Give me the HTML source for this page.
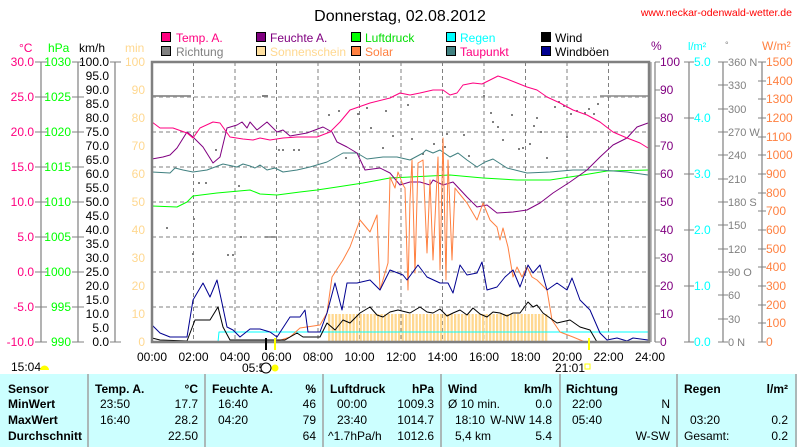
<!DOCTYPE html>
<html><head><meta charset="utf-8"><style>
body{margin:0;background:#fff;width:800px;height:447px;overflow:hidden}
svg{display:block;font-family:"Liberation Sans",sans-serif}
</style></head><body>
<svg width="800" height="447" viewBox="0 0 800 447" xmlns="http://www.w3.org/2000/svg">
<defs>
<pattern id="sun" x="328" y="0" width="3.5" height="10" patternUnits="userSpaceOnUse"><rect x="0" y="0" width="2.3" height="10" fill="#ffd890"/></pattern>
</defs>
<text x="400" y="21" font-size="16" text-anchor="middle" fill="#000">Donnerstag, 02.08.2012</text>
<text x="792" y="16" font-size="10.5" text-anchor="end" fill="#ff0000">www.neckar-odenwald-wetter.de</text>
<g font-size="12">
<rect x="161.5" y="32.5" width="9" height="9" fill="#ff0080" stroke="#000"/><text x="176" y="42" fill="#ff0080">Temp. A.</text>
<rect x="161.5" y="46.5" width="9" height="9" fill="#808080" stroke="#000"/><text x="176" y="56" fill="#808080">Richtung</text>
<rect x="256.5" y="32.5" width="9" height="9" fill="#800080" stroke="#000"/><text x="270" y="42" fill="#800080">Feuchte A.</text>
<rect x="256.5" y="46.5" width="9" height="9" fill="#ffe0a0" stroke="#000"/><text x="270" y="56" fill="#ffd890">Sonnenschein</text>
<rect x="351.5" y="32.5" width="9" height="9" fill="#00ff00" stroke="#000"/><text x="365" y="42" fill="#00dd00">Luftdruck</text>
<rect x="351.5" y="46.5" width="9" height="9" fill="#ff8040" stroke="#000"/><text x="365" y="56" fill="#ff8040">Solar</text>
<rect x="446.5" y="32.5" width="9" height="9" fill="#00ffff" stroke="#000"/><text x="460" y="42" fill="#00ffff">Regen</text>
<rect x="446.5" y="46.5" width="9" height="9" fill="#408080" stroke="#000"/><text x="460" y="56" fill="#ff0080">Taupunkt</text>
<rect x="541.5" y="32.5" width="9" height="9" fill="#000" stroke="#000"/><text x="555" y="42" fill="#000">Wind</text>
<rect x="541.5" y="46.5" width="9" height="9" fill="#000090" stroke="#000"/><text x="555" y="56" fill="#000">Windböen</text>
</g>
<g font-size="12">
<text x="19" y="52" fill="#ff0080">°C</text>
<text x="48" y="52" fill="#00ff00">hPa</text>
<text x="79" y="52" fill="#000">km/h</text>
<text x="125" y="52" fill="#ffd890">min</text>
<text x="651" y="50" fill="#800080">%</text>
<text x="688" y="50" fill="#00ffff" font-size="11">l/m²</text>
<text x="725" y="48" fill="#808080" font-size="9">°</text>
<text x="762" y="50" fill="#ff8040">W/m²</text>
</g>
<g stroke="#808080" stroke-width="1.2">
<line x1="41" y1="62" x2="41" y2="342"/><line x1="78" y1="62" x2="78" y2="342"/><line x1="115" y1="62" x2="115" y2="342"/>
<line x1="655" y1="62" x2="655" y2="342"/><line x1="689" y1="62" x2="689" y2="342"/><line x1="723" y1="62" x2="723" y2="342"/><line x1="762" y1="62" x2="762" y2="342"/>
</g>
<g font-size="12" text-anchor="end">
<g fill="#ff0080">
<text x="34" y="66">30.0</text><text x="34" y="101">25.0</text><text x="34" y="136">20.0</text><text x="34" y="171">15.0</text><text x="34" y="206">10.0</text><text x="34" y="241">5.0</text><text x="34" y="276">0.0</text><text x="34" y="311">-5.0</text><text x="34" y="346">-10.0</text></g>
<g fill="#00ff00">
<text x="71" y="66">1030</text><text x="71" y="101">1025</text><text x="71" y="136">1020</text><text x="71" y="171">1015</text><text x="71" y="206">1010</text><text x="71" y="241">1005</text><text x="71" y="276">1000</text><text x="71" y="311">995</text><text x="71" y="346">990</text></g>
<g fill="#000">
<text x="109" y="66">100.0</text><text x="109" y="80">95.0</text><text x="109" y="94">90.0</text><text x="109" y="108">85.0</text><text x="109" y="122">80.0</text><text x="109" y="136">75.0</text><text x="109" y="150">70.0</text><text x="109" y="164">65.0</text><text x="109" y="178">60.0</text><text x="109" y="192">55.0</text><text x="109" y="206">50.0</text><text x="109" y="220">45.0</text><text x="109" y="234">40.0</text><text x="109" y="248">35.0</text><text x="109" y="262">30.0</text><text x="109" y="276">25.0</text><text x="109" y="290">20.0</text><text x="109" y="304">15.0</text><text x="109" y="318">10.0</text><text x="109" y="332">5.0</text><text x="109" y="346">0.0</text></g>
<g fill="#ffd890">
<text x="145" y="66">100</text><text x="145" y="94">90</text><text x="145" y="122">80</text><text x="145" y="150">70</text><text x="145" y="178">60</text><text x="145" y="206">50</text><text x="145" y="234">40</text><text x="145" y="262">30</text><text x="145" y="290">20</text><text x="145" y="318">10</text><text x="145" y="346">0</text></g>
</g>
<g font-size="12">
<g fill="#800080">
<text x="660" y="66">100</text><text x="660" y="94">90</text><text x="660" y="122">80</text><text x="660" y="150">70</text><text x="660" y="178">60</text><text x="660" y="206">50</text><text x="660" y="234">40</text><text x="660" y="262">30</text><text x="660" y="290">20</text><text x="660" y="318">10</text><text x="660" y="346">0</text></g>
<g fill="#00ffff">
<text x="694" y="66">5.0</text><text x="694" y="122">4.0</text><text x="694" y="178">3.0</text><text x="694" y="234">2.0</text><text x="694" y="290">1.0</text><text x="694" y="346">0.0</text></g>
<g fill="#808080" font-size="11">
<text x="728" y="66">360 N</text><text x="728" y="89">330</text><text x="728" y="113">300</text><text x="728" y="136">270 W</text><text x="728" y="159">240</text><text x="728" y="183">210</text><text x="728" y="206">180 S</text><text x="728" y="229">150</text><text x="728" y="253">120</text><text x="728" y="276">90 O</text><text x="728" y="299">60</text><text x="728" y="323">30</text><text x="728" y="346">0 N</text></g>
<g fill="#ff8040">
<text x="766" y="66">1500</text><text x="766" y="85">1400</text><text x="766" y="103">1300</text><text x="766" y="122">1200</text><text x="766" y="141">1100</text><text x="766" y="159">1000</text><text x="766" y="178">900</text><text x="766" y="197">800</text><text x="766" y="215">700</text><text x="766" y="234">600</text><text x="766" y="253">500</text><text x="766" y="271">400</text><text x="766" y="290">300</text><text x="766" y="309">200</text><text x="766" y="327">100</text><text x="766" y="346">0</text></g>
</g>
<g stroke="#808080">
<path d="M35 62H47M35 97H47M35 132H47M35 167H47M35 202H47M35 237H47M35 272H47M35 307H47M35 342H47"/>
<path d="M72 62H84M72 97H84M72 132H84M72 167H84M72 202H84M72 237H84M72 272H84M72 307H84M72 342H84"/>
<path d="M110 62H121M110 342H121"/>
<path d="M655 62H660M655 90H660M655 118H660M655 146H660M655 174H660M655 202H660M655 230H660M655 258H660M655 286H660M655 314H660M655 342H660"/>
<path d="M684 62H694M684 118H694M684 174H694M684 230H694M684 286H694M684 342H694"/>
<path d="M718 62H728M718 85H728M718 109H728M718 132H728M718 155H728M718 179H728M718 202H728M718 225H728M718 249H728M718 272H728M718 295H728M718 319H728M718 342H728"/>
<path d="M758 62H766M758 81H766M758 99H766M758 118H766M758 137H766M758 155H766M758 174H766M758 193H766M758 211H766M758 230H766M758 249H766M758 267H766M758 286H766M758 305H766M758 323H766M758 342H766"/>
</g>
<g stroke="#808080" stroke-dasharray="4,3" stroke-width="1">
<path d="M193.5 62V342M235 62V342M276.5 62V342M318 62V342M359.5 62V342M401 62V342M442.5 62V342M484 62V342M525.5 62V342M567 62V342M608.5 62V342"/>
<path d="M152 97H650M152 132H650M152 167H650M152 202H650M152 237H650M152 272H650M152 307H650"/>
</g>
<rect x="328" y="314" width="220" height="28" fill="url(#sun)"/>
<g fill="#808080">
<rect x="153" y="95" width="38" height="2" opacity=".8"/><rect x="262" y="95" width="3" height="2"/><rect x="265" y="95" width="3" height="2"/>
<rect x="600" y="95" width="48" height="2" opacity=".7"/>
<rect x="215" y="149" width="2" height="2"/><rect x="278" y="149" width="2" height="2"/><rect x="282" y="149" width="2" height="2"/><rect x="293" y="149" width="2" height="2"/><rect x="298" y="149" width="2" height="2"/>
<rect x="198" y="182" width="2" height="2"/><rect x="205" y="182" width="2" height="2"/><rect x="238" y="185" width="2" height="2"/>
<rect x="166" y="227" width="2" height="2"/><rect x="240" y="236" width="2" height="2"/><rect x="265" y="236" width="12" height="2" opacity=".7"/>
<rect x="227" y="254" width="2" height="2"/><rect x="232" y="254" width="2" height="2"/><rect x="193" y="218" width="2" height="2"/><rect x="192" y="253" width="2" height="2"/>
<rect x="328" y="114" width="2" height="2"/><rect x="338" y="110" width="2" height="2"/><rect x="345" y="157" width="2" height="2"/><rect x="357" y="113" width="2" height="2"/><rect x="366" y="107" width="2" height="2"/><rect x="370" y="127" width="2" height="2"/><rect x="382" y="147" width="2" height="2"/><rect x="385" y="110" width="2" height="2"/><rect x="392" y="135" width="2" height="2"/>
<rect x="407" y="104" width="2" height="2"/><rect x="411" y="138" width="2" height="2"/><rect x="422" y="153" width="2" height="2"/><rect x="433" y="143" width="2" height="2"/><rect x="444" y="146" width="2" height="2"/><rect x="446" y="133" width="2" height="2"/><rect x="463" y="134" width="2" height="2"/><rect x="468" y="155" width="2" height="2"/>
<rect x="483" y="95" width="2" height="2"/><rect x="490" y="112" width="2" height="2"/><rect x="492" y="121" width="2" height="2"/><rect x="497" y="126" width="2" height="2"/><rect x="502" y="139" width="2" height="2"/><rect x="511" y="114" width="2" height="2"/><rect x="518" y="148" width="2" height="2"/><rect x="522" y="147" width="2" height="2"/><rect x="529" y="143" width="2" height="2"/><rect x="533" y="125" width="2" height="2"/><rect x="536" y="117" width="2" height="2"/><rect x="540" y="131" width="2" height="2"/><rect x="546" y="157" width="2" height="2"/><rect x="554" y="106" width="2" height="2"/><rect x="558" y="101" width="2" height="2"/><rect x="563" y="105" width="2" height="2"/><rect x="566" y="136" width="2" height="2"/><rect x="570" y="113" width="2" height="2"/><rect x="576" y="110" width="2" height="2"/><rect x="584" y="112" width="2" height="2"/><rect x="588" y="108" width="2" height="2"/><rect x="593" y="113" width="2" height="2"/><rect x="597" y="103" width="2" height="2"/>
</g>
<g fill="none" stroke-width="1" stroke-linejoin="round">
<polyline stroke="#00ffff" points="218,342 219,332 650,332"/>
<polyline stroke="#00ff00" points="152,206 177,207 187,202 193,196 217,193 250,190 260,194 277,195 300,192 317,190 337,187 363,183 390,178 410,177 450,175 483,178 517,180 550,180 583,175 607,171 648,170"/>
<polyline stroke="#408080" points="152,172 170,173 175,168 183,170 193,172 207,170 223,164 237,167 243,164 250,166 255,168 260,165 267,170 275,168 283,172 297,170 310,167 327,162 343,153 357,153 367,159 383,157 397,157 410,160 423,153 426,150 433,153 440,150 450,157 458,153 467,160 477,167 485,162 493,159 507,168 527,173 550,172 573,170 600,170 627,172 648,175"/>
<polyline stroke="#800080" points="152,159 163,157 170,155 177,148 187,132 193,137 203,147 213,163 220,157 227,128 237,125 242,122 247,128 250,122 257,130 267,122 277,132 283,130 290,136 307,133 323,127 332,132 337,142 347,147 357,153 365,170 380,168 390,173 400,185 410,182 420,182 430,185 433,180 443,185 453,182 467,197 477,207 487,205 497,213 513,212 527,210 540,203 553,193 570,182 587,170 600,157 613,145 627,138 637,127 648,123"/>
<polyline stroke="#ff0080" points="152,122 160,128 173,128 187,133 193,138 200,128 213,122 220,123 230,137 243,139 253,140 260,138 270,140 283,138 297,137 317,137 330,132 340,122 350,110 370,103 390,98 400,93 410,95 420,93 433,90 443,90 450,95 457,93 463,85 473,83 482,84 490,80 498,76 507,79 517,83 527,87 537,90 547,97 560,103 573,110 587,115 600,122 613,132 627,138 640,143 648,148"/>
<polyline stroke="#ff8040" points="275,342 290,337 300,328 320,325 327,313 332,277 343,260 350,247 360,220 370,232 377,215 380,290 388,263 390,177 395,188 398,172 403,185 405,188 408,290 410,200 412,160 415,273 418,163 423,160 427,253 430,180 433,260 438,157 440,270 443,138 446,280 448,160 452,260 455,188 458,192 467,203 477,220 483,203 490,220 497,227 500,240 503,228 508,247 513,277 517,267 522,277 527,267 532,277 537,280 547,290 552,320 560,332 573,337 585,342"/>
<polyline stroke="#000090" points="152,325 160,333 170,337 187,337 193,300 203,283 210,297 217,280 222,303 227,327 233,330 240,337 250,329 260,329 270,332 277,337 290,317 300,317 305,310 308,332 320,332 327,313 335,283 342,310 347,283 357,283 370,280 380,290 390,270 403,275 407,280 418,265 427,277 440,283 448,283 453,293 460,265 467,275 477,273 482,262 487,290 497,287 505,277 513,270 520,287 528,265 533,273 540,265 547,290 557,283 567,290 572,278 580,300 590,310 600,333 607,340 617,338 627,341 633,338 648,340"/>
<polyline stroke="#000" points="152,338 160,340 187,341 195,320 210,320 218,307 223,327 230,340 285,340 290,337 297,333 303,337 320,337 327,323 335,330 343,320 350,323 360,313 370,307 377,315 383,317 390,312 398,310 410,313 420,307 427,312 433,313 440,309 447,316 453,313 460,310 467,315 473,308 480,314 487,317 493,312 500,313 507,316 513,313 520,313 528,302 533,307 537,305 543,313 550,318 557,323 570,320 580,327 590,330 597,342"/>
</g>
<rect x="152" y="62" width="497" height="280" fill="none" stroke="#808080" stroke-width="2.5"/>
<line x1="651" y1="62" x2="651" y2="342" stroke="#808080" stroke-width="1"/>
<line x1="266" y1="338" x2="266" y2="350" stroke="#000" stroke-width="2"/>
<line x1="275" y1="338" x2="275" y2="350" stroke="#ffff00" stroke-width="2"/>
<line x1="589" y1="338" x2="589" y2="350" stroke="#ffff00" stroke-width="2"/>
<g font-size="12" fill="#000" text-anchor="middle">
<text x="152" y="361">00:00</text><text x="193.5" y="361">02:00</text><text x="235" y="361">04:00</text><text x="276.5" y="361">06:00</text><text x="318" y="361">08:00</text><text x="359.5" y="361">10:00</text><text x="401" y="361">12:00</text><text x="442.5" y="361">14:00</text><text x="484" y="361">16:00</text><text x="525.5" y="361">18:00</text><text x="567" y="361">20:00</text><text x="608.5" y="361">22:00</text><text x="650" y="361">24:00</text>
</g>
<g font-size="12" fill="#000"><text x="242" y="372">05:5</text><text x="11" y="371">15:04</text><text x="555" y="372">21:01</text></g>
<circle cx="266" cy="368" r="5" fill="#fff" stroke="#000"/>
<circle cx="275" cy="368" r="3.5" fill="#ffff00"/>
<path d="M40 370a4.5 4.5 0 0 1 9 0z" fill="#ffff00"/>
<rect x="585" y="364" width="5" height="5" fill="none" stroke="#ffff00"/>
<rect x="0" y="374" width="797" height="73" fill="#ccffff"/>
<g stroke="#a0a0a0" stroke-width="1.5"><path d="M88 374V447M205 374V447M323 374V447M441 374V447M560 374V447M677 374V447M796 374V447"/></g>
<g font-size="12" fill="#000">
<g font-weight="bold"><text x="8" y="393">Sensor</text><text x="8" y="408">MinWert</text><text x="8" y="424">MaxWert</text><text x="8" y="440">Durchschnitt</text>
<text x="95" y="393">Temp. A.</text><text x="212" y="393">Feuchte A.</text><text x="330" y="393">Luftdruck</text><text x="448" y="393">Wind</text><text x="566" y="393">Richtung</text><text x="684" y="393">Regen</text>
<g text-anchor="end"><text x="198" y="393">°C</text><text x="316" y="393">%</text><text x="434" y="393">hPa</text><text x="552" y="393">km/h</text><text x="788" y="393">l/m²</text></g></g>
<text x="100" y="408">23:50</text><text x="100" y="424">16:40</text>
<text x="218" y="408">16:40</text><text x="218" y="424">04:20</text>
<text x="337" y="408">00:00</text><text x="337" y="424">23:40</text><text x="328" y="440">^1.7hPa/h</text>
<text x="448" y="408">Ø 10 min.</text><text x="455" y="424">18:10</text><text x="455" y="440">5,4 km</text>
<text x="572" y="408">22:00</text><text x="572" y="424">05:40</text>
<text x="690" y="424">03:20</text><text x="684" y="440">Gesamt:</text>
<g text-anchor="end">
<text x="198" y="408">17.7</text><text x="198" y="424">28.2</text><text x="198" y="440">22.50</text>
<text x="316" y="408">46</text><text x="316" y="424">79</text><text x="316" y="440">64</text>
<text x="434" y="408">1009.3</text><text x="434" y="424">1014.7</text><text x="434" y="440">1012.6</text>
<text x="552" y="408">0.0</text><text x="552" y="424">W-NW 14.8</text><text x="552" y="440">5.4</text>
<text x="670" y="408">N</text><text x="670" y="424">N</text><text x="670" y="440">W-SW</text>
<text x="788" y="424">0.2</text><text x="788" y="440">0.2</text>
</g></g>
</svg>
</body></html>
